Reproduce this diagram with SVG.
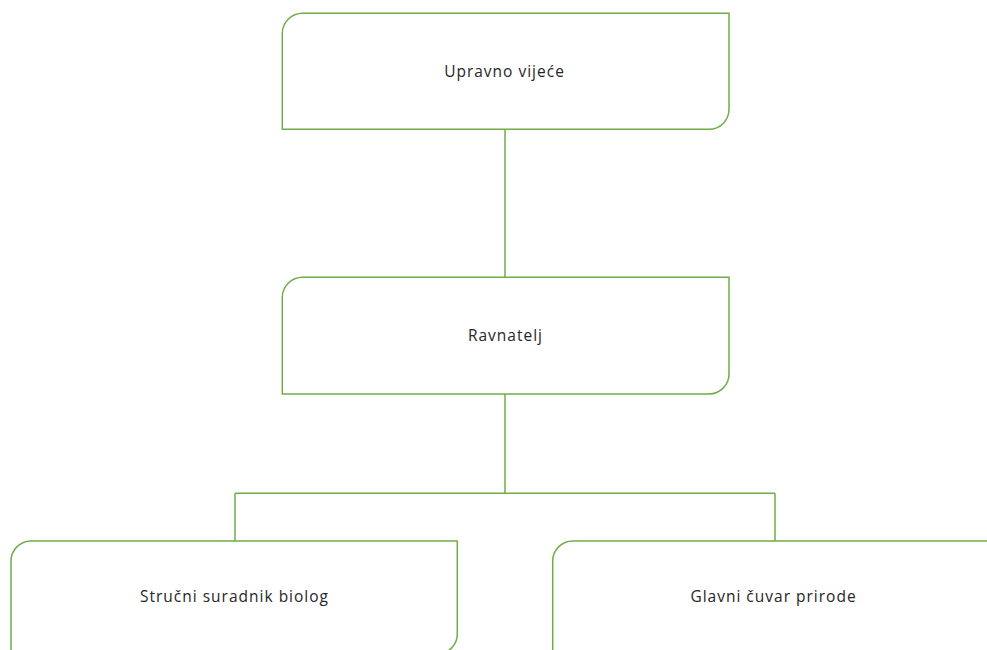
<svg xmlns="http://www.w3.org/2000/svg" width="987" height="650" viewBox="0 0 987 650">
<style>
.box{fill:#fff;stroke:#70AD47;stroke-width:1.5}
.conn{fill:none;stroke:#70AD47;stroke-width:1.5}
text{font-family:"Open Sans","Noto Sans","Liberation Sans",sans-serif;font-size:15.5px;letter-spacing:1px;fill:#262626;text-anchor:middle}
</style>
<rect width="987" height="650" fill="#fff"/>
<g id="connectors">
<path class="conn" d="M505,129.3 V277.3"/>
<path class="conn" d="M505,394 V493.3 M235,493.3 H775 M235,493.3 V541 M775,493.3 V541"/>
</g>
<g id="node-upravno">
<path class="box" d="M302.3,13.3 H729 V109.3 A20,20 0 0 1 709,129.3 H282.3 V33.3 A20,20 0 0 1 302.3,13.3 Z"/>
<text x="504.5" y="77">Upravno vijeće</text>
</g>
<g id="node-ravnatelj">
<path class="box" d="M302.3,277.3 H729 V374 A20,20 0 0 1 709,394 H282.3 V297.3 A20,20 0 0 1 302.3,277.3 Z"/>
<text x="505.5" y="341">Ravnatelj</text>
</g>
<g id="node-strucni">
<path class="box" d="M31,541 H457.3 V634 A20,20 0 0 1 437.3,654 H11 V561 A20,20 0 0 1 31,541 Z"/>
<text x="234.5" y="602">Stručni suradnik biolog</text>
</g>
<g id="node-glavni">
<path class="box" d="M572.7,541 H1000 V654 H552.7 V561 A20,20 0 0 1 572.7,541 Z"/>
<text x="773.5" y="602">Glavni čuvar prirode</text>
</g>
</svg>
